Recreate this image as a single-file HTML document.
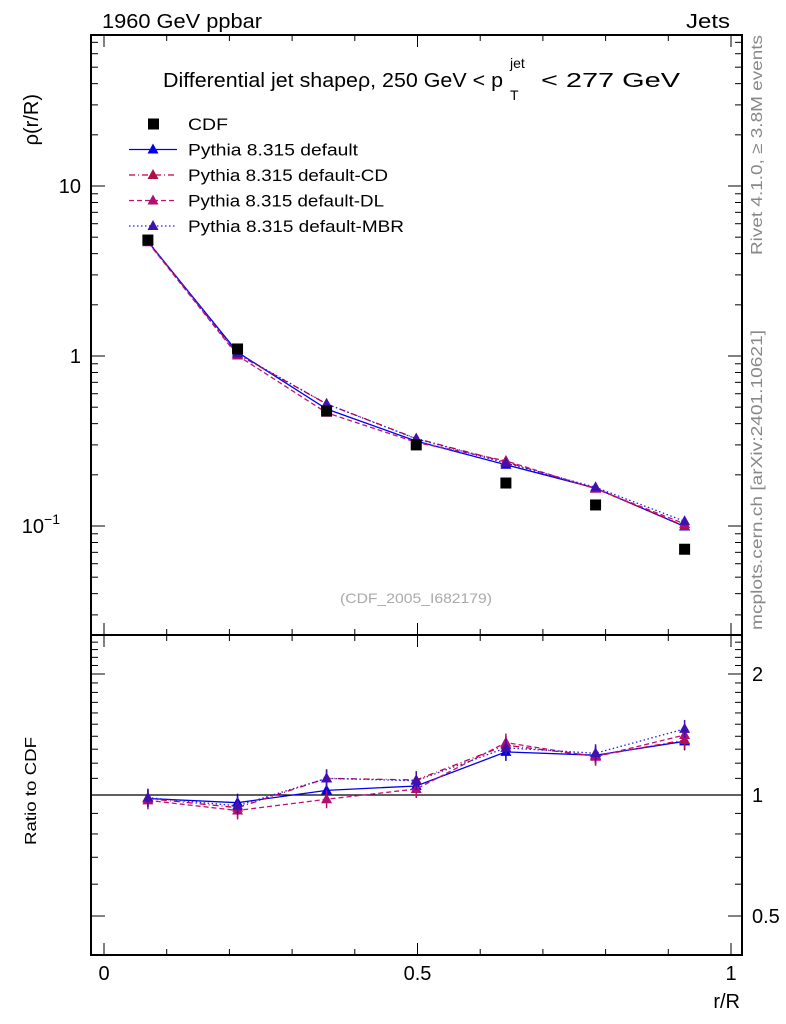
<!DOCTYPE html>
<html><head><meta charset="utf-8"><style>
html,body{margin:0;padding:0;background:#fff}
svg{display:block;font-family:"Liberation Sans",sans-serif}
</style></head><body>
<svg id="c" width="786" height="1024" viewBox="0 0 786 1024">
<text x="102" y="28" font-size="20" textLength="160" lengthAdjust="spacingAndGlyphs">1960 GeV ppbar</text>
<text x="686" y="28" font-size="20" textLength="44" lengthAdjust="spacingAndGlyphs">Jets</text>
<g font-size="20">
<text x="163" y="87" textLength="340" lengthAdjust="spacingAndGlyphs">Differential jet shapeρ, 250 GeV &lt; p</text>
<text x="510" y="100" font-size="14">T</text>
<text x="510" y="68" font-size="14">jet</text>
<text x="541" y="87" textLength="139" lengthAdjust="spacingAndGlyphs">&lt; 277 GeV</text>
</g>
<text transform="translate(38,94) rotate(-90)" font-size="20" text-anchor="end">ρ(r/R)</text>
<text transform="translate(36,845) rotate(-90)" font-size="16" textLength="108" lengthAdjust="spacingAndGlyphs">Ratio to CDF</text>
<text x="740" y="1008" font-size="20" text-anchor="end">r/R</text>
<text transform="translate(762,255) rotate(-90)" font-size="16" fill="#888" textLength="220" lengthAdjust="spacingAndGlyphs">Rivet 4.1.0, ≥ 3.8M events</text>
<text transform="translate(762,630) rotate(-90)" font-size="16" fill="#888" textLength="300" lengthAdjust="spacingAndGlyphs">mcplots.cern.ch [arXiv:2401.10621]</text>
<text x="340" y="603" font-size="14" fill="#aaa" textLength="152" lengthAdjust="spacingAndGlyphs">(CDF_2005_I682179)</text>
<g id="g"></g>
</svg>
<script>
const xs=[0.07,0.213,0.355,0.498,0.641,0.784,0.926];
const cdf=[4.81,1.10,0.475,0.30,0.179,0.133,0.073];
const rDef=[0.98,0.957,1.027,1.053,1.28,1.256,1.36];
const rCD=[0.98,0.93,1.10,1.09,1.33,1.25,1.37];
const rDL=[0.97,0.915,0.976,1.035,1.35,1.245,1.41];
const rMBR=[0.985,0.94,1.10,1.085,1.31,1.27,1.46];
const mainTicks=["10","1","10"];
const ratioTicks=[2,1,0.5];
const xTicks=[0,0.5,1];
const NS="http://www.w3.org/2000/svg";
const g=document.getElementById('g');
const L=91,R=742,T=35,M=635,B=955;
const X=v=>104+627*v;
const YM=v=>186-170*(Math.log10(v)-1);
const YR=v=>795-402*Math.log10(v);
function el(t,a,p){const e=document.createElementNS(NS,t);for(const k in a)e.setAttribute(k,a[k]);(p||g).appendChild(e);return e;}
let f1=el('rect',{x:L,y:T,width:R-L,height:M-T,fill:'none',stroke:'#000','stroke-width':2});

let f2=el('rect',{x:L,y:M,width:R-L,height:B-M,fill:'none',stroke:'#000','stroke-width':2});

for(let i=0;i<=10;i++){const v=i/10,x=X(v),big=i%5==0?12:6;
 [[T,1],[M,-1],[M,1],[B,-1]].forEach(([y,d])=>el('line',{x1:x,x2:x,y1:y,y2:y+d*big,stroke:'#000'}));}
xTicks.forEach(v=>{const t=el('text',{x:X(v),y:980,'font-size':20,'text-anchor':'middle'});t.textContent=v;
 });
for(let d=-2;d<=1;d++)for(let m=1;m<10;m++){const v=m*Math.pow(10,d),y=YM(v);if(y<T||y>M)continue;const w=m==1?14:7;
 el('line',{x1:L,x2:L+w,y1:y,y2:y,stroke:'#000'});el('line',{x1:R,x2:R-w,y1:y,y2:y,stroke:'#000'});}
[[10,'10'],[1,'1']].forEach(([v,s])=>{const t=el('text',{x:81,y:YM(v)+7,'font-size':20,'text-anchor':'end'});t.textContent=s;
 });
{const t=el('text',{x:60,y:YM(0.1)+7,'font-size':20,'text-anchor':'end'});t.innerHTML='10<tspan font-size="14" dy="-9">−1</tspan>';
 }
for(let v=0.4;v<=2.51;v+=0.1){const y=YR(v);const maj=[0.5,1,2].some(a=>Math.abs(a-v)<1e-6);const w=maj?14:7;
 el('line',{x1:L,x2:L+w,y1:y,y2:y,stroke:'#000'});el('line',{x1:R,x2:R-w,y1:y,y2:y,stroke:'#000'});}
ratioTicks.forEach(v=>{const t=el('text',{x:752,y:YR(v)+7,'font-size':20});t.textContent=v;
 });
el('line',{x1:L,x2:R,y1:YR(1),y2:YR(1),stroke:'#000','stroke-width':1.2});
const series=[
 {n:'default',r:rDef,c:'#0000ee',mk:'#0000ee',dash:''},
 {n:'default-cd',r:rCD,c:'#c8003c',mk:'#b0104a',dash:'6 3 1 3'},
 {n:'default-dl',r:rDL,c:'#c0107a',mk:'#b01070',dash:'5 3'},
 {n:'default-mbr',r:rMBR,c:'#2020ee',mk:'#4010b0',dash:'1.5 2.5'}];
function tri(x,y,col,p,name){const t=el('path',{d:`M${x} ${y-6}L${x+5.5} ${y+4}L${x-5.5} ${y+4}Z`,fill:col},p);
 }
series.forEach(s=>{
 const gm=el('g',{});
 const pm=xs.map((x,i)=>X(x)+','+YM(s.r[i]*cdf[i])).join(' ');
 const pr=xs.map((x,i)=>X(x)+','+YR(s.r[i])).join(' ');
 el('polyline',{points:pm,fill:'none',stroke:s.c,'stroke-width':1.3,'stroke-dasharray':s.dash},gm);
 el('polyline',{points:pr,fill:'none',stroke:s.c,'stroke-width':1.3,'stroke-dasharray':s.dash},gm);
 xs.forEach((x,i)=>{tri(X(x),YM(s.r[i]*cdf[i]),s.mk,gm,'marker-'+s.n);
  const y=YR(s.r[i]);el('line',{x1:X(x),x2:X(x),y1:y-9,y2:y+9,stroke:s.mk,'stroke-width':1.5},gm);
  tri(X(x),y,s.mk,gm,'ratio-marker-'+s.n);});
});
const gc=el('g',{});
xs.forEach((x,i)=>{const r=el('rect',{x:X(x)-5.5,y:YM(cdf[i])-5.5,width:11,height:11,fill:'#000'},gc);
 });
const lg=el('g',{});
const labs=['CDF','Pythia 8.315 default','Pythia 8.315 default-CD','Pythia 8.315 default-DL','Pythia 8.315 default-MBR'];
const labW=[40,170,200,196,216];
labs.forEach((s,i)=>{const y=124+25.5*i;const e=el('g',{},lg);
 if(i==0)el('rect',{x:148,y:y-5.5,width:11,height:11,fill:'#000'},e);
 else{const sr=series[i-1];el('line',{x1:129,x2:177,y1:y,y2:y,stroke:sr.c,'stroke-width':1.3,'stroke-dasharray':sr.dash},e);tri(153,y,sr.mk,e,'legend-marker');}
 const t=el('text',{x:188,y:y+6,'font-size':17,textLength:labW[i],lengthAdjust:'spacingAndGlyphs'},e);t.textContent=s;});
</script>
</body></html>
